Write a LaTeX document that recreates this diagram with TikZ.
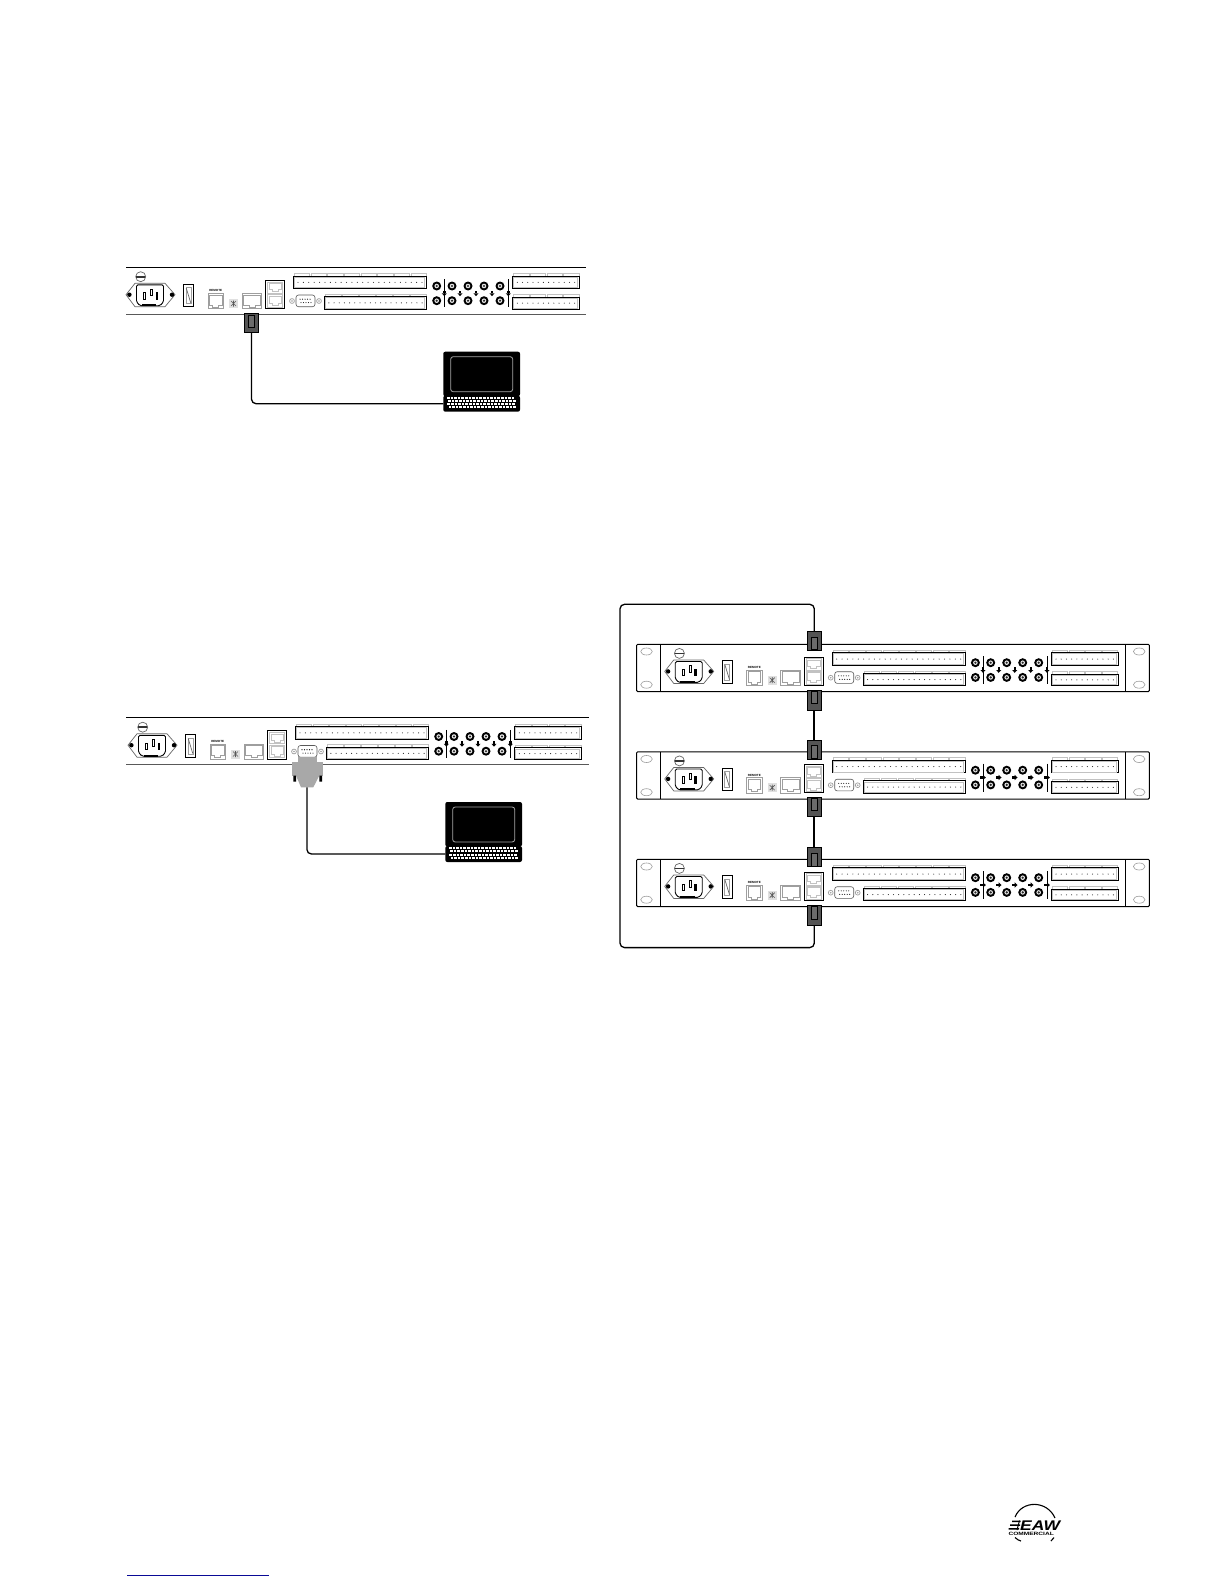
\documentclass[tikz,border=0pt]{standalone}
\usepackage{fontspec}
\usepackage{graphicx}
\setmainfont{Liberation Sans}
\definecolor{pgray}{gray}{0.62}
\definecolor{lgray}{gray}{0.76}
\definecolor{plugdark}{gray}{0.33}
\definecolor{pluginner}{gray}{0.42}
\definecolor{shellgray}{gray}{0.66}
\definecolor{linkblue}{RGB}{10,10,150}
\tikzset{
  faint/.style={draw=pgray,line width=0.5pt},
  fainter/.style={draw=lgray,line width=0.5pt},
  hairline/.style={draw=black,line width=0.9pt},
  plugbody/.style={draw=black,line width=0.8pt,fill=plugdark,inner sep=0pt,outer sep=0pt,minimum width=14.5pt},
  plugcore/.style={draw=black,line width=0.8pt,fill=pluginner,inner sep=0pt,outer sep=0pt,minimum width=6pt},
  cable/.style={draw=black,line width=1.3pt,rounded corners=4.5pt},
  linkcable/.style={draw=black,line width=1.8pt},
  tinylabel/.style={inner sep=0pt,font=\fontsize{3}{3}\selectfont\bfseries},
  rackline/.style={draw=black,line width=1pt,rounded corners=1pt},
  shellbody/.style={draw=none,fill=shellgray,inner sep=0pt,outer sep=0pt},
}
% gray RJ jack
\newcommand\rjjack[5][faint]{%
  \pgfmathsetmacro\jxa{#2+#4}\pgfmathsetmacro\jyb{#3+#5}%
  \pgfmathsetmacro\jm{#2+#4/2}\pgfmathsetmacro\jl{\jm-3}\pgfmathsetmacro\jr{\jm+3}%
  \pgfmathsetmacro\jla{#2+1.5}\pgfmathsetmacro\jra{\jxa-1.5}%
  \pgfmathsetmacro\jt{#3+1.5}\pgfmathsetmacro\jn{\jyb-3.5}\pgfmathsetmacro\jnn{\jyb-1.5}%
  \draw[#1] (#2,#3) rectangle (\jxa,\jyb);
  \draw[#1] (\jla,\jt) -- (\jra,\jt) -- (\jra,\jn) -- (\jr,\jn) -- (\jr,\jnn) -- (\jl,\jnn) -- (\jl,\jn) -- (\jla,\jn) -- cycle;
}
% terminal block: x1 y1 x2 y2 tabs pins
\newcommand\tblock[6]{%
  \pgfmathsetmacro\tw{(#3-#1)/#5}\pgfmathsetmacro\pw{(#3-#1-4)/#6}%
  \pgfmathsetmacro\ty{#2-2.6}%
  \foreach \i in {1,...,#5}{
    \pgfmathsetmacro\tl{#1+(\i-1)*\tw+1}\pgfmathsetmacro\tr{#1+\i*\tw-0.5}%
    \draw[fainter] (\tl,#2) -- (\tl,\ty) -- (\tr,\ty) -- (\tr,#2);
  }
  \draw[draw=black,line width=0.9pt,fill=white] (#1,#2) rectangle (#3,#4);
  \pgfmathsetmacro\ia{#1+1}\pgfmathsetmacro\ib{#2+1}\pgfmathsetmacro\ic{#3-2}\pgfmathsetmacro\id{#4-1}%
  \draw[fainter] (\ia,\ib) rectangle (\ic,\id);
  \pgfmathsetmacro\py{(#2+#4)/2}%
  \foreach \i in {1,...,#6}{
    \pgfmathsetmacro\px{#1+2+(\i-0.5)*\pw}%
    \fill[black!85] (\px,\py) circle (0.55pt);
  }
}
% panel contents: x y name arrowangle
\newcommand\devparts[4]{%
\begin{scope}[shift={(#1,#2)}]
  % logo disc
  \draw[draw=black!60,line width=0.7pt] (14.7,9.7) circle (5pt);
  \fill[black!80] (10.2,8.8) rectangle (19.2,10.6);
  % mains inlet
  \draw[draw=black!60,line width=0.7pt] (0,27.7) -- (9,16.3) -- (39,16.3) -- (49,27.7) -- (39,39.7) -- (9,39.7) -- cycle;
  \draw[draw=black,line width=0.9pt,rounded corners=1.5pt] (10.5,17.8) -- (37.5,17.8) -- (37.5,35) -- (34,38.7) -- (14,38.7) -- (10.5,35) -- cycle;
  \fill[black] (3.4,27.7) circle (2.2pt);
  \fill[black] (46,27.7) circle (2.2pt);
  \fill[black] (15.5,37) rectangle (30,39.2);
  \draw[black,line width=0.7pt,fill=white] (17.4,25.5) rectangle (19.4,32);
  \draw[black,line width=0.7pt,fill=white] (24.3,22) rectangle (26.3,28.5);
  \draw[black,line width=0.7pt,fill=black] (30,25.5) rectangle (31.6,32);
  % power switch
  \draw[hairline] (57.3,17) rectangle (67.7,39.7);
  \draw[faint] (60,20.5) rectangle (65,36.5);
  \draw[black!60,line width=0.7pt] (60.2,21) -- (64.8,36);
  % remote jack
  \node[tinylabel] (#3rem) at (89.7,23.8) {REMOTE};
  \rjjack{82}{26.3}{15.3}{15.4}
  % DIP switch
  \fill[black!12] (103,32) rectangle (112,41);
  \draw[black!65,line width=0.6pt] (105,34) -- (110,39) (110,34) -- (105,39) (107.5,33.5) -- (107.5,39.5);
  % network jack
  \rjjack{116}{26.3}{19.7}{15.4}
  % dual port
  \draw[hairline] (139.3,13.3) rectangle (158.7,41.7);
  \rjjack[fainter]{141.3}{14.8}{15.4}{11.3}
  \rjjack[fainter]{141.3}{27.3}{15.4}{12.8}
  % serial
  \draw[faint,line width=0.7pt] (166,34) circle (2.4pt) (193,34) circle (2.4pt);
  \fill[pgray] (166,34) circle (0.9pt) (193,34) circle (0.9pt);
  \draw[draw=black!65,line width=0.6pt,rounded corners=2.5pt] (170,28) rectangle (189,39.7);
  \foreach \dx in {174,176.5,179,181.5,184}{\fill[black] (\dx,32.2) circle (0.55pt);}
  \foreach \dx in {175,177.5,180,182.5,185}{\fill[black] (\dx,35.6) circle (0.55pt);}
  % terminal blocks
  \tblock{167.3}{9}{300.7}{21.7}{8}{24}
  \tblock{198.3}{29.7}{300.7}{42}{6}{19}
  \tblock{386.7}{9}{453.3}{21.7}{4}{12}
  \tblock{386.7}{30.3}{453.3}{42}{4}{12}
  % RCA sockets
  \foreach \cx in {310.7,326,342,358,374}{
    \foreach \cy in {19,33.7}{
      \fill[black] (\cx,\cy) circle (4.5pt);
      \fill[black!10] (\cx,\cy) circle (2.3pt);
      \fill[black!85] (\cx,\cy) circle (1.2pt);
    }
  }
  \draw[black,line width=0.8pt] (318.3,12.3) -- (318.3,40.3) (382.3,12.3) -- (382.3,40.3);
  \foreach \ax in {318.3,334,350,366,382.3}{
    \begin{scope}[shift={(\ax,26.3)},rotate=#4]
      \fill[black] (-2.6,-1.2) rectangle (0,1.2);
      \fill[black] (0,-2.6) -- (2.8,0) -- (0,2.6) -- cycle;
    \end{scope}
  }
\end{scope}}
% rack panel with ears
\newcommand\rackframe[1]{%
  \draw[rackline] (636.7,#1) rectangle (1149.3,#1+47.3);
  \draw[black,line width=0.9pt] (660.7,#1) -- (660.7,#1+47.3) (1125.7,#1) -- (1125.7,#1+47.3);
  \foreach \ex in {646.5,1139.2}{
    \draw[faint,line width=0.6pt] (\ex,#1+7.2) ellipse (5.8pt and 3.5pt);
    \draw[faint,line width=0.6pt] (\ex,#1+40.4) ellipse (5.8pt and 3.5pt);
  }
}
% laptop
\newcommand\laptop[3]{%
\begin{scope}[shift={(#1,#2)}]
  \node[draw=none,fill=black,rounded corners=2pt,inner sep=0pt,outer sep=0pt,minimum width=76.7pt,minimum height=44.5pt] (scr#3) at (38.35,22.25) {};
  \node[draw=none,fill=black,rounded corners=2pt,inner sep=0pt,outer sep=0pt,minimum width=76.7pt,minimum height=16pt] (kb#3) at (38.35,52) {};
  \draw[draw=black!35,line width=0.8pt,rounded corners=2.5pt] (7.4,5) rectangle (69.4,40);
  \foreach \rw/\off in {0/0,1/1.2,2/0.4,3/1.6}{
    \foreach \k in {0,...,18}{
      \fill[white] (3.6+\off+\k*3.6,45.2+\rw*3.15) rectangle (6.3+\off+\k*3.6,47.3+\rw*3.15);
    }
  }
\end{scope}}
% plug: name, centre x, top, bottom, core top, core bottom
\newcommand\plugnode[6]{%
  \pgfmathsetmacro\pcy{(#3+#4)/2}\pgfmathsetmacro\pch{#4-#3}%
  \pgfmathsetmacro\icy{(#5+#6)/2}\pgfmathsetmacro\ich{#6-#5}%
  \node[plugbody,minimum height=\pch pt] (#1) at (#2,\pcy) {};
  \node[plugcore,minimum height=\ich pt] (#1core) at (#2,\icy) {};
}
\begin{document}
\begin{tikzpicture}[x=1pt,y=-1pt]
\useasboundingbox (0,0) rectangle (1224,1584);
\fill[white] (0,0) rectangle (1224,1584);

% --- top-left setup ---
\draw[black,line width=1pt] (126,267.3) -- (586,267.3);
\draw[black!65,line width=0.9pt] (126,314.3) -- (586,314.3);
\devparts{126}{267}{pa}{-90}
\laptop{443.3}{351.7}{A}
\plugnode{plugA}{251.5}{313.3}{332.7}{315}{327}
\draw[cable] (plugA.south) |- (kbA.west);

% --- middle-left setup ---
\draw[black,line width=1pt] (126,717.8) -- (589,717.8);
\draw[black!65,line width=0.9pt] (126,764.6) -- (589,764.6);
\devparts{128}{717.5}{pb}{-90}
\laptop{445.3}{802}{B}
\node[shellbody,minimum width=19pt,minimum height=5pt] (neckB) at (307.8,759.2) {};
\node[shellbody,minimum width=30.4pt,minimum height=14pt] (shellB) at (307.5,768.7) {};
\fill[black] (293.3,775.7) rectangle (296,781.7) (319.3,775.7) rectangle (322,781.7);
\fill[shellgray] (296,775.7) -- (319.3,775.7) -- (313.3,787.3) -- (301,787.3) -- cycle;
\coordinate (shellBtip) at (306.9,787.3);
\draw[cable] (shellBtip) |- (kbB.west);

% --- right-hand rack chain ---
\rackframe{644.3}
\rackframe{751.8}
\rackframe{859.3}
\devparts{664.7}{643.7}{ra}{-90}
\devparts{664.7}{751.2}{rb}{0}
\devparts{664.7}{858.7}{rc}{0}

\plugnode{pAtop}{814.3}{631.7}{650}{637}{649.5}
\plugnode{pAbot}{814.3}{690.5}{710}{691.5}{703}
\plugnode{pBtop}{814.3}{740.5}{759.5}{745.5}{758.8}
\plugnode{pBbot}{814.3}{797.5}{816}{798.5}{810}
\plugnode{pCtop}{814.3}{847.8}{866.7}{853}{866}
\plugnode{pCbot}{814.3}{905.7}{925.7}{906.7}{919}

\draw[linkcable] (pAbot.south) -- (pBtop.north);
\draw[linkcable] (pBbot.south) -- (pCtop.north);
\draw[cable] (pCbot.south) -- (814.3,947.6) -- (620,947.6) -- (620,604.3) -- (814.3,604.3) -- (pAtop.north);

% --- logo ---
\draw[black,line width=1.1pt] (1015,1517) .. controls (1022,1500) and (1047,1500) .. (1055,1518);
\draw[black,line width=1.1pt] (1015,1537.5) .. controls (1017,1539.5) and (1019,1540.5) .. (1021,1541);
\draw[black,line width=1.1pt] (1054,1537.5) .. controls (1053,1539) and (1052,1540) .. (1051,1541);
\fill[black] (1012,1520.5) rectangle (1020.5,1522) (1010,1524.3) rectangle (1020,1525.8) (1008.5,1528) rectangle (1019,1529.5);
\draw[black,line width=1pt] (1019.5,1520.5) -- (1017,1530);
\node[inner sep=0pt,anchor=base west] (logoEAW) at (1020,1530.3) {\scalebox{1.25}[1]{\fontsize{14}{14}\selectfont\bfseries\itshape EAW}};
\node[inner sep=0pt,anchor=base west] (logoCOM) at (1008.3,1535.3) {\scalebox{1.4}[1]{\fontsize{4.7}{4.7}\selectfont\bfseries COMMERCIAL}};

% --- footer rule ---
\draw[linkblue,line width=1.2pt] (127.3,1575.3) -- (269,1575.3);
\end{tikzpicture}
\end{document}
